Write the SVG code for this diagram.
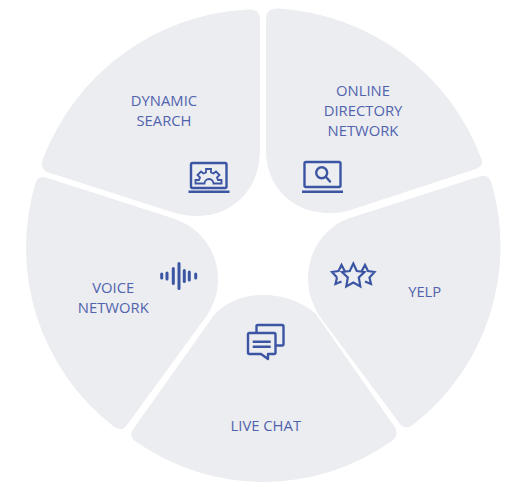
<svg xmlns="http://www.w3.org/2000/svg" width="519" height="487" viewBox="0 0 519 487">
<style>
.seg{fill:#ebedf1}
text{font-family:"Open Sans","Noto Sans","Liberation Sans",sans-serif;font-size:14.800px;fill:#5263ad;text-anchor:middle}
.i{fill:none;stroke:#3c55a3;stroke-width:2.400;stroke-linejoin:round}
.g{fill:none;stroke:#3c55a3;stroke-width:1.800;stroke-linejoin:miter}
.s{fill:none;stroke:#3c55a3;stroke-width:2.200;stroke-linejoin:miter}
.b{fill:none;stroke:#3c55a3;stroke-width:3;stroke-linecap:round}
</style>
<rect width="519" height="487" fill="#ffffff"/>
<g id="dynamic-search">
<path class="seg" d="M248 9.500Q260 8.500 260 20L260 150C260 190 232 216 197 216C187 216 179 214 172 212L47 172Q40 168 42.500 160A232 232 0 0 1 248 9.500Z"/>
<text x="164" y="106">DYNAMIC</text>
<text x="164" y="126">SEARCH</text>
<rect class="i" x="191" y="163" width="35.500" height="25" rx="1.500"/>
<path class="i" d="M188.500 191.700H229.500"/>
<path class="g" d="M195.500 183.500v-3.500h3.500l1-2.500l-2.500-2.500l3.500-3.500l2.500 2l2.500-1v-3.500h5v3.500l2.500 1l2.500-2l3.500 3.500l-2.500 2.500l1 2.500h3.500v3.500h-8a4.500 4.500 0 0 0-9 0z"/>
</g>
<g id="online-directory-network">
<path class="seg" d="M278 8.500Q266 7.500 266 19L266 150C266 188 294 214 332 213C341 213 348 211 355 208.500L476 169Q484 166 481.500 159A232 232 0 0 0 278 8.500Z"/>
<text x="363" y="96">ONLINE</text>
<text x="363" y="116">DIRECTORY</text>
<text x="363" y="136">NETWORK</text>
<rect class="i" x="304.500" y="162" width="36" height="25" rx="1.500"/>
<path class="i" d="M302 191.700H343"/>
<circle class="i" cx="321.700" cy="172.700" r="5.500"/>
<path class="i" stroke-linecap="round" d="M325.800 176.800L330 181.500"/>
</g>
<g id="voice-network">
<path class="seg" d="M35.500 183Q38 175 46 177.500L172 218C200 227 218 250 218 280C218 292 214 304 208 314L127 425Q121 433 113 426A226 226 0 0 1 35.500 183Z"/>
<text x="113.300" y="293.300">VOICE</text>
<text x="113.300" y="313.300">NETWORK</text>
<path class="b" d="M161.700 274v4M167 273v6M173.300 268.500v15M179 263.500v25M184.300 270.500v11M189.300 272v8M195.700 274v4"/>
</g>
<g id="yelp">
<path class="seg" d="M491.500 183Q489 174 481 176L350 218C326 226 308 250 308 278C308 293 313 306 320 317L400 424Q406 431 414 424A226 226 0 0 0 491.500 183Z"/>
<text x="424.700" y="296.500">YELP</text>
<path class="s" d="M337 277.500L332 272L338.500 271L341.500 265L345 271.500M361.500 271.500L365 265L368 271L374.500 272L369.500 277.500L371 284L365 281.500M341.500 281.500L335.500 284L337 277.500"/>
<path class="s" d="M353.300 263.500L356.800 271L364.500 272L358.800 277.500L360.300 286.500L353.300 282.500L346.300 286.500L347.800 277.500L342 272L349.800 271Z"/>
</g>
<g id="live-chat">
<path class="seg" d="M135 441Q128 435 134 428L214 315C226 302 244 295 263 295C283 295 303 302 316 314L394 426Q400 434 392 441A222 222 0 0 1 135 441Z"/>
<text x="265.800" y="431">LIVE CHAT</text>
<g class="i">
<path d="M256.500 332.700V326Q256.500 325 258 325H282Q283.500 325 283.500 326.500V344Q283.500 345.500 282 345.500H276"/>
<path d="M249.500 333H274Q275.500 333 275.500 334.500V352.500Q275.500 354 274 354H268V359L261 354H249.500Q248 354 248 352.500V334.500Q248 333 249.500 333Z"/>
<path d="M252.700 341.700H270.700M252.700 346.700H270.700"/>
</g>
</g>
</svg>
